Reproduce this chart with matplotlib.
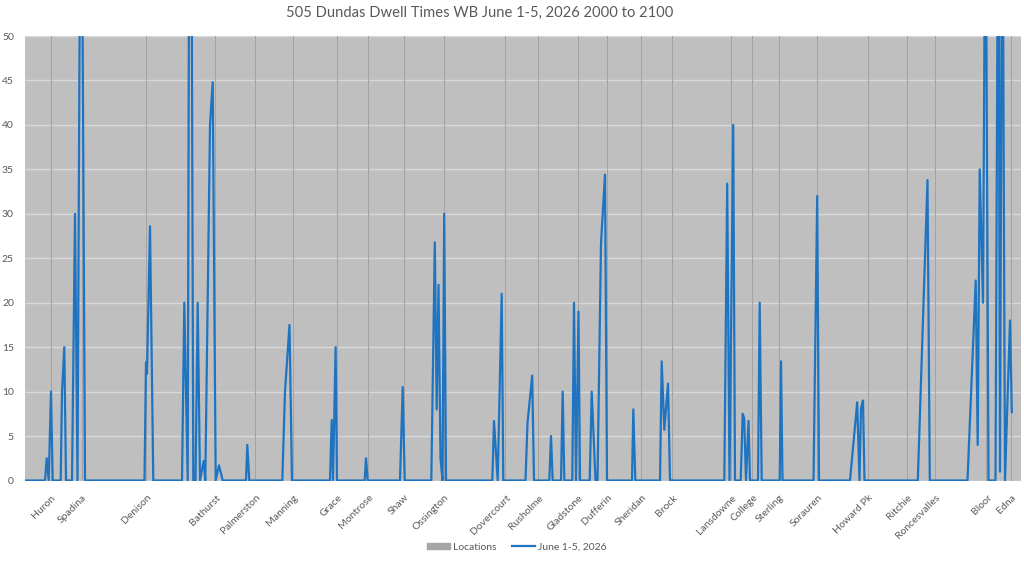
import matplotlib
matplotlib.use('Agg')
import matplotlib.pyplot as plt
from matplotlib.patches import Patch
from matplotlib.lines import Line2D

plt.rcParams['font.family'] = ['Lato', 'DejaVu Sans']

# stop locations, position along the route (arbitrary units)
stops = ['Huron', 'Spadina', 'Denison', 'Bathurst', 'Palmerston', 'Manning', 'Grace',
         'Montrose', 'Shaw', 'Ossington', 'Dovercourt', 'Rusholme', 'Gladstone',
         'Dufferin', 'Sheridan', 'Brock', 'Lansdowne', 'College', 'Sterling',
         'Sorauren', 'Howard Pk', 'Ritchie', 'Roncesvalles', 'Bloor', 'Edna']
stop_pos = [26, 57, 121.5, 190.5, 230.5, 268.5, 312.3, 343.5, 379.3, 419.3, 480.7,
            513.7, 553.5, 582.7, 616.7, 647.3, 706.5, 727.7, 754.3, 792.5, 843.5,
            882.3, 910.3, 962, 986.7]
stop_height = [50] * len(stops)

# dwell time samples (position, seconds)
dwell_pos = [0, 20, 21.7, 23.7, 26, 27.7, 35.7, 37, 39.3, 41, 47, 50, 52.5, 56, 60,
             119.5, 121, 122, 125, 128.3, 157, 159.3, 162.7, 165.2, 168.3, 170.5,
             172.7, 175, 178.7, 180.3, 185, 187.7, 190.7, 194, 197.7, 221, 222.3,
             224.3, 257.3, 260, 264.5, 267, 305, 306.7, 308, 310.6, 312, 339.7, 341,
             342.7, 375, 377.7, 379.7, 406.3, 409.8, 411.7, 413.5, 415.5, 417.5,
             419.2, 421, 467.3, 469, 472.7, 476.7, 478.3, 500.5, 502.5, 507.2, 509,
             524.3, 526, 527.7, 536, 537.7, 539.3, 547.3, 549, 551, 553.5, 555,
             564.7, 566.7, 570.5, 572.5, 576, 580, 582, 607, 608.3, 610.3, 635,
             636.7, 639.3, 643, 645, 699.3, 702.2, 704.5, 708.2, 710, 715.7, 717.7,
             719.2, 721, 723.5, 725, 733, 734.7, 736.7, 754.7, 756, 757.5, 788.5,
             792.2, 794, 825, 832.2, 834.5, 836, 838, 839.5, 892.8, 902.5, 904.8,
             942.5, 950.7, 952.7, 954.7, 958, 960.5, 963.5, 970.5, 973.3, 975,
             977.3, 980, 985, 986.8]
dwell_val = [0, 0, 2.5, 0, 10, 0, 0, 10, 15, 0, 0, 30, 0, 85, 0,
             0, 13.3, 12, 28.6, 0, 0, 20, 0, 110, 0, 0,
             20, 0, 2.2, 0, 40, 44.8, 0, 1.7, 0, 0, 4,
             0, 0, 10, 17.5, 0, 0, 6.8, 0, 15, 0, 0, 2.5,
             0, 0, 10.5, 0, 0, 26.8, 8, 22, 2.5, 0,
             30, 0, 0, 6.7, 0, 21, 0, 0, 6.5, 11.8, 0,
             0, 5, 0, 0, 10, 0, 0, 20, 0, 19, 0,
             0, 10, 0, 0, 26.7, 34.4, 0, 0, 8, 0, 0,
             13.4, 5.7, 10.9, 0, 0, 33.4, 0, 40, 0, 0, 7.5,
             7, 0, 6.7, 0, 0, 20, 0, 0, 13.4, 0, 0,
             32, 0, 0, 8.8, 0, 8.1, 9, 0, 0, 33.8, 0,
             0, 22.5, 4, 35, 20, 72, 0, 0, 75, 1,
             75, 0, 18, 7.7]

fig = plt.figure(figsize=(10.24, 5.61), dpi=100)
ax = fig.add_axes([25 / 1024, 80.5 / 561, 996 / 1024, 444.5 / 561])
ax.set_facecolor('#BFBFBF')

ax.bar(stop_pos, stop_height, width=1.0, color='#A3A3A3', zorder=2)
ax.plot(dwell_pos, dwell_val, color='#1F74C2', linewidth=1.6, zorder=3)

ax.set_xlim(0, 996)
ax.set_ylim(0, 50)
ax.set_yticks(range(0, 51, 5))
ax.yaxis.grid(True, color='#D9D9D9', linewidth=1.0, zorder=1)
ax.set_axisbelow(True)
for s in ax.spines.values():
    s.set_visible(False)

ax.set_xticks(stop_pos)
ax.set_xticklabels(stops, rotation=45, ha='right', rotation_mode='anchor',
                   fontsize=7.5, color='#595959')
ax.tick_params(axis='x', length=0, pad=9)
ax.tick_params(axis='y', length=0, pad=8, labelsize=7.5, labelcolor='#595959')

fig.suptitle('505 Dundas Dwell Times WB June 1-5, 2026 2000 to 2100',
             x=0.468, y=0.99, fontsize=10.6, color='#595959')

handles = [Patch(color='#A6A6A6', label='Locations'),
           Line2D([0], [0], color='#1F74C2', linewidth=1.6, label='June 1-5, 2026')]
fig.legend(handles=handles, loc='lower center', bbox_to_anchor=(0.505, 0.0), ncol=2,
           frameon=False, fontsize=7.5, labelcolor='#595959', handlelength=2.2,
           handleheight=0.5, columnspacing=1.5, handletextpad=0.3)

fig.savefig('out.png', dpi=100)
